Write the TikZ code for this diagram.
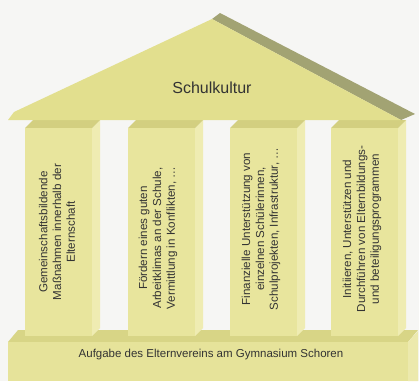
\documentclass[tikz,border=0pt]{standalone}
\usepackage{fontspec}
\setmainfont{Liberation Sans}
\definecolor{bg}{HTML}{F6F6F4}
\definecolor{roofface}{HTML}{E2DF8E}
\definecolor{roofside}{HTML}{A2A373}
\definecolor{colfront}{HTML}{E8E59D}
\definecolor{coltop}{HTML}{D3CF80}
\definecolor{colside}{HTML}{EFECB2}
\definecolor{basetop}{HTML}{D8D586}
\definecolor{basefront}{HTML}{E6E39A}
\definecolor{baseside}{HTML}{ECE9AD}
\definecolor{txt}{HTML}{333333}
\tikzset{
  coltext/.style={rotate=90, align=center, text=txt, inner sep=0pt,
    font=\fontsize{11.6}{13.8}\selectfont},
  maintext/.style={text=txt, inner sep=0pt}
}
\begin{document}
\begin{tikzpicture}[x=1pt,y=-1pt]
\useasboundingbox (0,0) rectangle (419,381);
\fill[bg] (0,0) rectangle (419,381);
% base
\fill[basetop] (8,342) -- (18,330) -- (418,330) -- (408,342) -- cycle;
\fill[basefront] (8,342) rectangle (408,381);
\fill[baseside] (408,342) -- (418,331) -- (418,381) -- (408,381) -- cycle;
% columns
\foreach \cx in {25,128,230,331}{
  \fill[colside] (\cx+67,128) -- (\cx+75,120) -- (\cx+75,328) -- (\cx+67,336) -- cycle;
  \fill[coltop] (\cx,128) -- (\cx+8,120) -- (\cx+75,120) -- (\cx+67,128) -- cycle;
  \fill[colfront] (\cx,128) rectangle (\cx+67,336);
}
% roof
\fill[roofside] (212,19) -- (220,13) -- (415,114) -- (401,120) -- cycle;
\fill[roofface] (212,19) -- (14,112) -- (8,120) -- (401,120) -- cycle;
% texts
\node[maintext, font=\fontsize{16}{19}\selectfont] (roof) at (212,88) {Schulkultur};
\node[maintext, font=\fontsize{11.5}{13.8}\selectfont] (base) at (211,355) {Aufgabe des Elternvereins am Gymnasium Schoren};
\node[coltext] (c1) at (57,232) {Gemeinschaftsbildende\\Maßnahmen innerhalb der\\Elternschaft};
\node[coltext] (c2) at (158,238) {Fördern eines guten\\Arbeitklimas an der Schule,\\Vermittlung in Konflikten, \dots};
\node[coltext] (c3) at (261,229) {Finanzielle Unterstützung von\\einzelnen Schülerinnen,\\Schulprojekten, Infrastruktur, \dots};
\node[coltext] (c4) at (362,229) {Initiieren, Unterstützen und\\Durchführen von Elternbildungs-\\und beteiligungsprogrammen};
\end{tikzpicture}
\end{document}
